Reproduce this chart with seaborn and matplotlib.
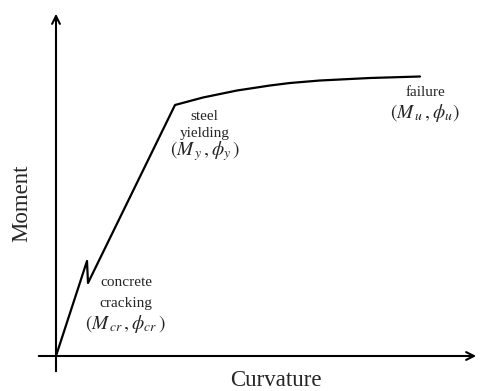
import matplotlib
matplotlib.use("Agg")
import matplotlib.pyplot as plt
import seaborn as sns
import pandas as pd

sns.set_theme(style="white")
plt.rcParams["font.family"] = ["Liberation Serif", "DejaVu Serif"]
plt.rcParams["mathtext.fontset"] = "stix"

# Idealised moment-curvature response of a reinforced concrete section
curvature = [0, 31, 32, 119, 147, 181, 214, 234, 264, 314, 364]
moment = [0, 95, 73, 251, 258.5, 265.5, 270.5, 273, 275.5, 278, 279.5]
df = pd.DataFrame({"Curvature": curvature, "Moment": moment})

fig = plt.figure(figsize=(4.8, 3.91), dpi=100)
ax = fig.add_axes([0, 0, 1, 1])
sns.lineplot(data=df, x="Curvature", y="Moment", ax=ax, color="black",
             linewidth=1.6, sort=False, estimator=None)
ax.set_xlim(-56, 424)
ax.set_ylim(-35, 356)
ax.axis("off")

# Coordinate axes drawn as arrows
arrow = dict(arrowstyle="->", color="black", lw=1.5, mutation_scale=14)
ax.annotate("", xy=(0, 345), xytext=(0, -18), arrowprops=arrow)
ax.annotate("", xy=(423, 0), xytext=(-20, 0), arrowprops=arrow)

ax.text(-34, 153, "Moment", rotation=90, ha="center", va="center", fontsize=16.5)
ax.text(220, -24, "Curvature", ha="center", va="center", fontsize=16.5)

# Key stages along the curve
ax.text(70, 73, "concrete", ha="center", va="center", fontsize=11)
ax.text(70, 53, "cracking", ha="center", va="center", fontsize=11)
ax.text(70, 32, r"$(M_{\,cr}\, , \phi_{cr}\,)$", ha="center", va="center",
        fontsize=14)

ax.text(148, 239, "steel", ha="center", va="center", fontsize=11)
ax.text(149, 222, "yielding", ha="center", va="center", fontsize=11)
ax.text(149, 205, r"$(M_{\,y}\, , \phi_y\,)$", ha="center", va="center",
        fontsize=14)

ax.text(369, 263, "failure", ha="center", va="center", fontsize=11)
ax.text(369, 243, r"$(M_{\,u}\, , \phi_u)$", ha="center", va="center",
        fontsize=14)

fig.savefig("out.png", dpi=100)
